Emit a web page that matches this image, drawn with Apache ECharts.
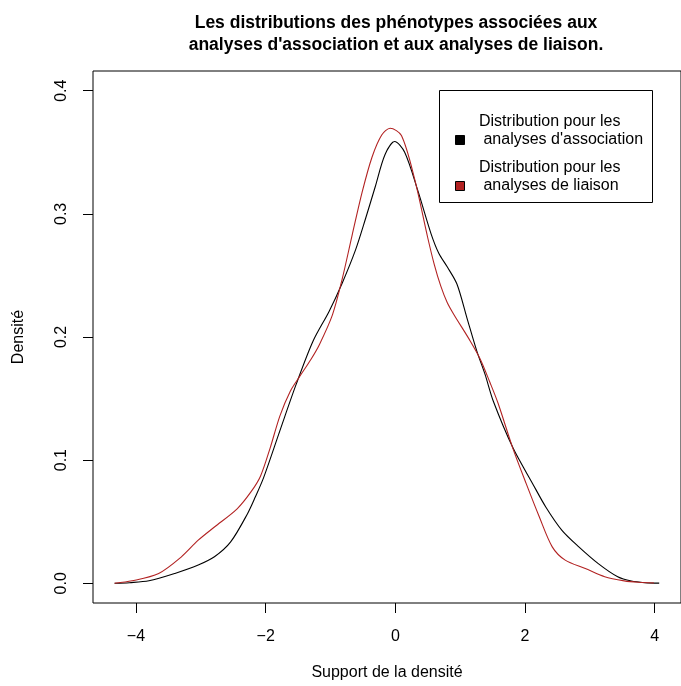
<!DOCTYPE html>
<html>
<head>
<meta charset="utf-8">
<script src="https://cdn.jsdelivr.net/npm/echarts@6/dist/echarts.min.js"></script>
<style>
html,body{margin:0;padding:0;background:#fff;}
#chart{width:681px;height:686px;}
</style>
</head>
<body>
<div id="chart"></div>
<script>
// Data
var assocX = [-4.33, -4.1, -3.8, -3.4, -3.04, -2.79, -2.54, -2.28, -2.16, -2.03, -1.78, -1.53, -1.27, -1.02, -0.82, -0.615, -0.46, -0.31, -0.16, -0.01, 0.144, 0.346, 0.55, 0.67, 0.80, 0.95, 1.105, 1.257, 1.384, 1.51, 1.814, 2.12, 2.32, 2.57, 2.83, 3.13, 3.43, 3.64, 3.85, 4.07];
var assocY = [0, 0.0005, 0.002, 0.008, 0.0148, 0.0215, 0.0336, 0.0565, 0.070, 0.086, 0.124, 0.1615, 0.1966, 0.221, 0.2437, 0.2705, 0.296, 0.322, 0.348, 0.3587, 0.350, 0.319, 0.284, 0.268, 0.257, 0.243, 0.2154, 0.1885, 0.1696, 0.148, 0.110, 0.0807, 0.062, 0.043, 0.0296, 0.016, 0.0053, 0.0018, 0.0005, 0.0001];
var liaisonX = [-4.33, -4.06, -3.65, -3.30, -3.04, -2.79, -2.44, -2.23, -2.08, -1.93, -1.78, -1.62, -1.475, -1.3, -1.17, -0.97, -0.82, -0.665, -0.51, -0.36, -0.21, -0.08, 0.094, 0.296, 0.498, 0.60, 0.70, 0.80, 0.90, 1.157, 1.31, 1.46, 1.586, 1.81, 2.02, 2.22, 2.42, 2.62, 2.93, 3.23, 3.53, 3.75, 3.99];
var liaisonY = [0, 0.002, 0.008, 0.0215, 0.035, 0.0457, 0.0605, 0.074, 0.087, 0.110, 0.136, 0.156, 0.168, 0.182, 0.194, 0.218, 0.247, 0.283, 0.318, 0.346, 0.364, 0.3695, 0.3636, 0.3286, 0.281, 0.259, 0.2415, 0.228, 0.2185, 0.1966, 0.182, 0.163, 0.146, 0.110, 0.0807, 0.054, 0.0296, 0.0188, 0.012, 0.0053, 0.002, 0.0008, 0.0002];
var xTicks = [-4, -2, 0, 2, 4];
var yTicks = [0, 0.1, 0.2, 0.3, 0.4];
var seriesNames = ["Distribution pour les\n analyses d'association", "Distribution pour les\n analyses de liaison"];
var seriesColors = ['#000000', '#B22222'];
var titleText = "Les distributions des phénotypes associées aux\nanalyses d'association et aux analyses de liaison.";
var xName = 'Support de la densité';
var yName = 'Densité';

function zip(xs, ys){ return xs.map(function(x,i){ return [x, ys[i]]; }); }

var FONT = '"Liberation Sans", Arial, Helvetica, sans-serif';
var chart = echarts.init(document.getElementById('chart'), null, {renderer:'canvas'});

var legendGraphics = [
  {type:'rect', shape:{x:439.5, y:90.5, width:213, height:112}, style:{fill:'#fff', stroke:'#000', lineWidth:1}, z:100},
  {type:'rect', shape:{x:455.5, y:135.5, width:9, height:9}, style:{fill:seriesColors[0], stroke:'#000', lineWidth:1}, z:101},
  {type:'rect', shape:{x:455.5, y:181.5, width:9, height:9}, style:{fill:seriesColors[1], stroke:'#000', lineWidth:1}, z:101},
  {type:'text', x:479, y:113, style:{text:seriesNames[0], font:'16px ' + FONT, fill:'#000', lineHeight:18, textVerticalAlign:'top'}, z:101},
  {type:'text', x:479, y:159, style:{text:seriesNames[1], font:'16px ' + FONT, fill:'#000', lineHeight:18, textVerticalAlign:'top'}, z:101}
];

chart.setOption({
  backgroundColor:'#fff',
  animation:false,
  title:{
    text:titleText,
    left:391, top:7, textAlign:'center',
    textStyle:{fontFamily:FONT, fontWeight:'bold', fontSize:17.5, lineHeight:22, color:'#000'}
  },
  grid:{left:93, top:71, right:-10, bottom:81, show:true, borderColor:'#000', borderWidth:1, backgroundColor:'transparent'},
  xAxis:{
    type:'value', min:-4.663, max:4.406,
    name:xName, nameLocation:'middle', nameGap:62,
    nameTextStyle:{fontFamily:FONT, fontSize:16, color:'#000'},
    axisLine:{show:false, onZero:false},
    axisTick:{show:true, length:10, customValues:xTicks, lineStyle:{color:'#000', width:1}},
    axisLabel:{customValues:xTicks, margin:26, fontFamily:FONT, fontSize:16, color:'#000',
      formatter:function(v){ return v<0 ? '\u2212'+Math.abs(v) : String(v); }},
    splitLine:{show:false}
  },
  yAxis:{
    type:'value', min:-0.016, max:0.416,
    name:yName, nameLocation:'middle', nameGap:66, nameRotate:90,
    nameTextStyle:{fontFamily:FONT, fontSize:16, color:'#000'},
    axisLine:{show:false, onZero:false},
    axisTick:{show:true, length:10, customValues:yTicks, lineStyle:{color:'#000', width:1}},
    axisLabel:{customValues:yTicks, rotate:90, margin:23, fontFamily:FONT, fontSize:16, color:'#000',
      formatter:function(v){ return v.toFixed(1); }},
    splitLine:{show:false}
  },
  series:[
    {name:seriesNames[0], type:'line', data:zip(assocX, assocY), smooth:0.3, showSymbol:false,
      lineStyle:{color:seriesColors[0], width:1.1}, itemStyle:{color:seriesColors[0]}},
    {name:seriesNames[1], type:'line', data:zip(liaisonX, liaisonY), smooth:0.3, showSymbol:false,
      lineStyle:{color:seriesColors[1], width:1.1}, itemStyle:{color:seriesColors[1]}}
  ],
  graphic:legendGraphics
});
</script>
</body>
</html>
